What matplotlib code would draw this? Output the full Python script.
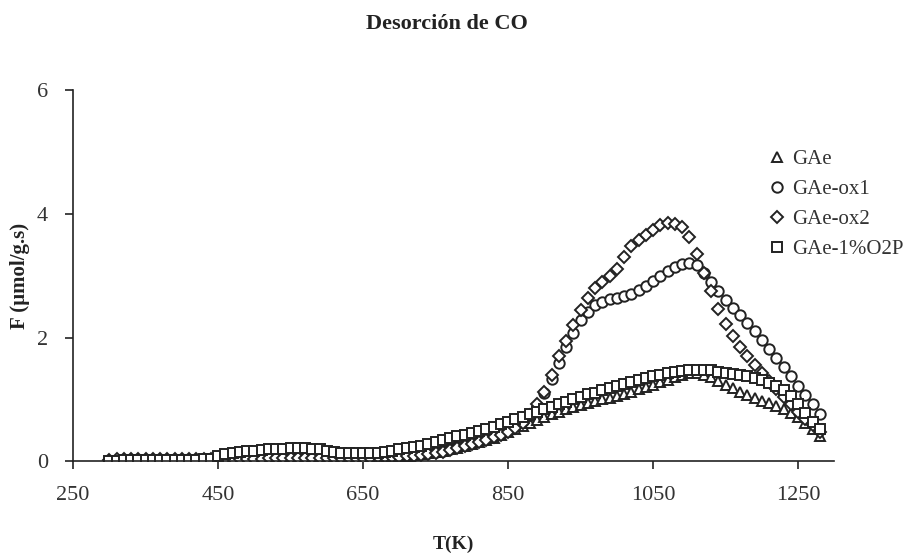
import numpy as np
import matplotlib
matplotlib.use("Agg")
import matplotlib.pyplot as plt

plt.rcParams['font.family'] = ['Liberation Serif', 'DejaVu Serif']

# temperature grid (K), one reading every 10 K
temps = list(range(300, 1290, 10))

# desorption flow F (umol/g.s) for each sample
gae = [
    0.00, 0.01, 0.01, 0.01, 0.01, 0.01, 0.01, 0.01, 0.01, 0.01,
    0.01, 0.01, 0.01, 0.01, 0.01, 0.02, 0.02, 0.02, 0.02, 0.02,
    0.02, 0.02, 0.03, 0.03, 0.03, 0.03, 0.03, 0.03, 0.03, 0.03,
    0.03, 0.03, 0.03, 0.03, 0.03, 0.04, 0.05, 0.05, 0.06, 0.07,
    0.08, 0.09, 0.10, 0.12, 0.13, 0.15, 0.17, 0.19, 0.22, 0.25,
    0.28, 0.31, 0.34, 0.38, 0.42, 0.47, 0.52, 0.57, 0.62, 0.67,
    0.72, 0.76, 0.80, 0.84, 0.87, 0.91, 0.94, 0.97, 1.00, 1.03,
    1.06, 1.09, 1.12, 1.16, 1.20, 1.24, 1.28, 1.32, 1.36, 1.40,
    1.42, 1.42, 1.40, 1.36, 1.30, 1.24, 1.18, 1.12, 1.07, 1.02,
    0.98, 0.94, 0.89, 0.84, 0.78, 0.71, 0.62, 0.52, 0.40,
]
gae_ox1 = [
    0.00, 0.01, 0.01, 0.01, 0.01, 0.01, 0.01, 0.01, 0.01, 0.01,
    0.01, 0.01, 0.01, 0.02, 0.02, 0.02, 0.02, 0.02, 0.02, 0.02,
    0.02, 0.03, 0.03, 0.03, 0.03, 0.03, 0.03, 0.03, 0.03, 0.03,
    0.03, 0.03, 0.04, 0.04, 0.04, 0.04, 0.05, 0.05, 0.06, 0.07,
    0.08, 0.09, 0.10, 0.11, 0.13, 0.15, 0.17, 0.20, 0.23, 0.26,
    0.29, 0.32, 0.36, 0.40, 0.45, 0.50, 0.57, 0.65, 0.75, 0.90,
    1.10, 1.33, 1.58, 1.84, 2.08, 2.28, 2.42, 2.52, 2.58, 2.62,
    2.64, 2.67, 2.71, 2.77, 2.84, 2.91, 2.99, 3.07, 3.14, 3.19,
    3.21, 3.17, 3.05, 2.90, 2.75, 2.61, 2.48, 2.36, 2.24, 2.10,
    1.96, 1.82, 1.67, 1.52, 1.37, 1.22, 1.07, 0.92, 0.77,
]
gae_ox2 = [
    0.02, 0.03, 0.03, 0.03, 0.03, 0.03, 0.03, 0.03, 0.03, 0.03,
    0.03, 0.03, 0.03, 0.03, 0.03, 0.04, 0.04, 0.04, 0.04, 0.04,
    0.04, 0.04, 0.05, 0.05, 0.05, 0.05, 0.05, 0.05, 0.05, 0.05,
    0.05, 0.05, 0.05, 0.05, 0.05, 0.05, 0.05, 0.06, 0.06, 0.07,
    0.07, 0.08, 0.09, 0.10, 0.11, 0.13, 0.15, 0.18, 0.21, 0.24,
    0.28, 0.31, 0.35, 0.39, 0.43, 0.48, 0.53, 0.62, 0.75, 0.92,
    1.12, 1.40, 1.70, 1.95, 2.20, 2.45, 2.64, 2.80, 2.90, 3.00,
    3.10, 3.30, 3.48, 3.58, 3.66, 3.74, 3.82, 3.85, 3.84, 3.79,
    3.62, 3.35, 3.05, 2.75, 2.46, 2.22, 2.02, 1.85, 1.70, 1.56,
    1.43, 1.30, 1.17, 1.04, 0.92, 0.80, 0.69, 0.58, 0.48,
]
gae_o2p = [
    0.01, 0.01, 0.02, 0.02, 0.02, 0.02, 0.02, 0.02, 0.02, 0.02,
    0.02, 0.02, 0.02, 0.03, 0.03, 0.08, 0.12, 0.14, 0.15, 0.16,
    0.17, 0.18, 0.19, 0.20, 0.20, 0.21, 0.21, 0.21, 0.20, 0.19,
    0.17, 0.15, 0.14, 0.13, 0.13, 0.13, 0.13, 0.14, 0.15, 0.17,
    0.19, 0.21, 0.23, 0.25, 0.28, 0.31, 0.34, 0.37, 0.40, 0.43,
    0.46, 0.49, 0.52, 0.56, 0.60, 0.64, 0.68, 0.72, 0.76, 0.80,
    0.84, 0.88, 0.92, 0.96, 1.00, 1.04, 1.08, 1.11, 1.15, 1.19,
    1.22, 1.25, 1.28, 1.31, 1.34, 1.37, 1.40, 1.42, 1.44, 1.46,
    1.47, 1.48, 1.48, 1.47, 1.45, 1.43, 1.41, 1.39, 1.37, 1.34,
    1.31, 1.27, 1.22, 1.15, 1.06, 0.92, 0.78, 0.64, 0.52,
]

series = [
    ('GAe', gae, '^', 7.0),
    ('GAe-ox1', gae_ox1, 'o', 7.5),
    ('GAe-ox2', gae_ox2, 'D', 5.8),
    ('GAe-1%O2P', gae_o2p, 's', 7.0),
]

ink = '#222222'

fig = plt.figure(figsize=(9.13, 5.53), dpi=100)
ax = fig.add_axes([0.080, 0.166, 0.834, 0.671])

for name, vals, mk, ms in series:
    ax.plot(temps, vals, linestyle='none', marker=mk, markersize=ms,
            markerfacecolor='white', markeredgecolor=ink, markeredgewidth=1.4,
            label=name)

ax.set_xlim(250, 1300)
ax.set_ylim(0, 6)
ax.set_xticks([250, 450, 650, 850, 1050, 1250])
ax.set_yticks([0, 2, 4, 6])

for side in ['top', 'right']:
    ax.spines[side].set_visible(False)
for side in ['left', 'bottom']:
    ax.spines[side].set_color(ink)
    ax.spines[side].set_linewidth(1.2)
ax.tick_params(direction='out', length=6, width=1.2, color=ink,
               labelsize=16, labelcolor='#333333')
ax.tick_params(axis='x', pad=12)
ax.tick_params(axis='y', pad=12)

ax.set_xlabel('T(K)', fontsize=14, fontweight='bold', color=ink, labelpad=22)
ax.set_ylabel('F (µmol/g.s)', fontsize=15, fontweight='bold', color=ink, labelpad=5)
fig.suptitle('Desorción de CO', x=0.49, y=0.975, fontsize=16, fontweight='bold', color=ink)

leg = fig.legend(loc='upper left', bbox_to_anchor=(0.833, 0.745), frameon=False,
                 fontsize=15, handlelength=0.8, handletextpad=0.3,
                 labelspacing=0.5, borderaxespad=0)
for t in leg.get_texts():
    t.set_color('#333333')

fig.savefig('out.png', dpi=100)
